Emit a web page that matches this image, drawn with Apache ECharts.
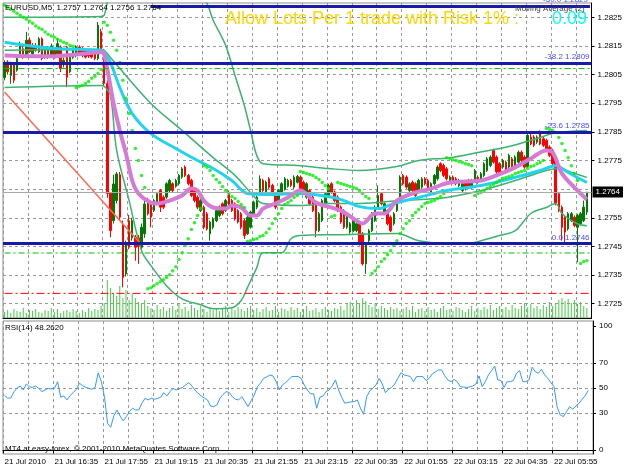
<!DOCTYPE html>
<html>
<head>
<meta charset="utf-8">
<title>EURUSD M5</title>
<script src="https://cdn.jsdelivr.net/npm/echarts@6/dist/echarts.min.js"></script>
<style>
html,body{margin:0;padding:0;background:#fff;}
#chart{width:625px;height:469px;}
</style>
</head>
<body>
<div id="chart"></div>
<script>
// each bar: [open, close, low, high]
const candles = [
[1.2804,1.2809,1.2803,1.2810],[1.28094,1.2806,1.2805,1.2810],[1.28047,1.28088,1.28018,1.28095],[1.28088,1.2803,1.2802,1.2809],
[1.28065,1.28106,1.2806,1.2811],[1.28117,1.28158,1.2811,1.28165],[1.2814,1.28111,1.28105,1.2815],[1.2812,1.2817,1.28115,1.28199],
[1.2817,1.2813,1.28125,1.2818],[1.28123,1.2815,1.28115,1.2816],[1.2815,1.28135,1.2813,1.2816],[1.2813,1.28175,1.28125,1.28181],
[1.28175,1.28106,1.2810,1.2818],[1.2811,1.28135,1.28105,1.28146],[1.28146,1.28111,1.28105,1.2815],[1.28117,1.2815,1.2811,1.28158],
[1.28135,1.2811,1.28105,1.2814],[1.28123,1.28158,1.2812,1.28175],[1.28146,1.28071,1.28059,1.28152],[1.28085,1.2810,1.28075,1.2811],
[1.28146,1.28041,1.28006,1.2815],[1.2806,1.28117,1.28055,1.28123],[1.2811,1.28135,1.28105,1.2814],[1.28117,1.28146,1.2811,1.28152],
[1.28146,1.2812,1.28115,1.28152],[1.2814,1.28117,1.2811,1.28146],[1.28135,1.28111,1.28106,1.2814],[1.2813,1.28115,1.28108,1.28138],
[1.28135,1.28111,1.28106,1.2814],[1.28135,1.28106,1.2810,1.2814],[1.28106,1.28222,1.2810,1.28234],[1.2820,1.28135,1.2813,1.2821],
[1.28135,1.28019,1.2801,1.2814],[1.28019,1.27635,1.2762,1.2803],
[1.27635,1.27505,1.27482,1.2764],[1.2754,1.27668,1.2753,1.2770],[1.2761,1.27703,1.2760,1.2771],[1.2770,1.27552,1.2754,1.2771],
[1.27528,1.27342,1.27307,1.2754],[1.27354,1.27459,1.27345,1.2747],[1.2754,1.27447,1.2744,1.2756],[1.2748,1.2754,1.2747,1.2755],
[1.27482,1.27447,1.2740,1.2749],[1.2748,1.2745,1.27389,1.2749],[1.27447,1.27517,1.2744,1.2753],[1.27494,1.27598,1.2748,1.2761],
[1.2761,1.27564,1.27558,1.2762],[1.2760,1.27552,1.27517,1.27605],[1.27575,1.2761,1.2757,1.27616],[1.27599,1.27634,1.27593,1.2764],
[1.27645,1.27587,1.2757,1.2765],[1.27622,1.27587,1.2758,1.27628],[1.27622,1.27669,1.27616,1.27674],[1.27645,1.2768,1.2764,1.27686],
[1.27669,1.27645,1.2764,1.27674],[1.2766,1.2768,1.27655,1.27686],[1.27669,1.27698,1.27663,1.27703],[1.27692,1.27721,1.27686,1.27727],
[1.27727,1.27698,1.27692,1.27733],[1.27698,1.27669,1.27663,1.27703],[1.2768,1.27628,1.27622,1.27686],[1.27645,1.2761,1.27604,1.2765],
[1.27622,1.27587,1.2758,1.27628],[1.27575,1.2761,1.2757,1.27616],[1.27587,1.27517,1.2751,1.27593],[1.27564,1.27511,1.27505,1.2757],
[1.27494,1.27535,1.2747,1.2754],[1.27517,1.27546,1.2751,1.27552],[1.2754,1.27575,1.27535,1.2758],[1.27558,1.27587,1.27552,1.27593],
[1.27599,1.27564,1.27558,1.27604],[1.27575,1.2761,1.2757,1.27616],[1.27634,1.27587,1.2758,1.27645],[1.2761,1.27575,1.2757,1.27616],
[1.27599,1.27546,1.2754,1.27604],[1.27575,1.27535,1.2753,1.2758],[1.27564,1.27517,1.2751,1.2757],[1.2754,1.27488,1.27476,1.27546],
[1.27494,1.27552,1.2749,1.27558],[1.27517,1.2757,1.27512,1.27575],[1.27564,1.27604,1.2756,1.2761],[1.27587,1.27622,1.2758,1.27628],
[1.27634,1.27686,1.2763,1.27698],[1.2768,1.27645,1.2764,1.27686],[1.2764,1.27674,1.27635,1.2768],[1.27686,1.27657,1.27651,1.27692],
[1.27663,1.27634,1.27628,1.27669],[1.27634,1.27587,1.2758,1.2764],[1.2761,1.27645,1.27604,1.2765],[1.27639,1.27669,1.27634,1.27674],
[1.2765,1.27686,1.27645,1.27692],[1.2766,1.2768,1.27655,1.27686],[1.2768,1.27663,1.27657,1.27686],[1.27657,1.27692,1.27651,1.27698],
[1.27674,1.27694,1.2767,1.2770],[1.27692,1.27651,1.27645,1.27698],[1.27674,1.2764,1.27634,1.2768],[1.27622,1.27669,1.27616,1.27674],
[1.27645,1.27599,1.27593,1.2765],[1.27622,1.27575,1.2757,1.27628],[1.27599,1.27505,1.27482,1.27604],[1.27505,1.27564,1.2750,1.2757],
[1.2754,1.2761,1.27535,1.27616],[1.27599,1.27634,1.27593,1.2764],[1.27628,1.27663,1.27622,1.27669],[1.27669,1.2764,1.27634,1.27674],
[1.2764,1.2761,1.27604,1.27645],[1.27622,1.27575,1.2757,1.27628],[1.27587,1.27535,1.27529,1.27593],[1.27575,1.27517,1.27511,1.2758],
[1.27517,1.27564,1.27511,1.2757],[1.2750,1.27529,1.27494,1.27535],[1.27505,1.2754,1.2750,1.27546],[1.27505,1.27529,1.2750,1.27535],
[1.27529,1.27459,1.27453,1.27535],[1.27494,1.27389,1.27383,1.2750],[1.27389,1.27459,1.27354,1.27465],[1.2747,1.27505,1.27465,1.27511],
[1.27505,1.27564,1.2750,1.2757],[1.2754,1.27587,1.27535,1.27593],[1.27587,1.27628,1.27581,1.27663],[1.27634,1.27599,1.27593,1.2764],
[1.27564,1.27599,1.2756,1.27604],[1.27575,1.27529,1.27523,1.2758],[1.27552,1.27505,1.2750,1.27558],[1.27529,1.27564,1.27523,1.2757],
[1.27575,1.2761,1.2757,1.27616],[1.2761,1.27692,1.27604,1.27698],[1.27698,1.27669,1.27663,1.27703],[1.27692,1.27657,1.27651,1.27698],
[1.27645,1.27669,1.2764,1.27674],[1.27674,1.27645,1.2764,1.2768],[1.27669,1.27628,1.27622,1.27674],[1.27645,1.2768,1.2764,1.27686],
[1.27657,1.27686,1.27651,1.27692],[1.27686,1.27669,1.27663,1.27692],[1.2768,1.27651,1.27645,1.27686],[1.2764,1.27669,1.27634,1.27674],
[1.27669,1.27698,1.27663,1.27703],[1.27686,1.27727,1.2768,1.27733],[1.27739,1.27715,1.2771,1.27744],[1.27733,1.27698,1.27692,1.27739],
[1.27721,1.27686,1.2768,1.27727],[1.2768,1.27692,1.27674,1.27698],[1.27692,1.27678,1.27674,1.27698],[1.27686,1.27669,1.27663,1.27692],
[1.27663,1.2768,1.27657,1.27686],[1.27645,1.27669,1.2764,1.27674],[1.27674,1.27651,1.27645,1.2768],[1.2768,1.27657,1.27651,1.27686],
[1.27657,1.2768,1.27651,1.27686],[1.2768,1.27715,1.27674,1.2772],[1.27692,1.27674,1.27669,1.27698],[1.2768,1.27704,1.27674,1.2771],
[1.27698,1.27739,1.27692,1.27744],[1.27715,1.27756,1.2771,1.27762],[1.27733,1.27762,1.27727,1.27768],[1.27785,1.27744,1.27739,1.27791],
[1.27762,1.2771,1.27704,1.27768],[1.27739,1.27704,1.27698,1.27744],[1.27727,1.2775,1.27721,1.27756],[1.27744,1.2771,1.27704,1.2775],
[1.27727,1.27768,1.27721,1.27774],[1.27756,1.27727,1.27721,1.27762],[1.27733,1.27762,1.27727,1.27768],[1.27744,1.27779,1.27739,1.27785],
[1.27779,1.2775,1.27744,1.27785],[1.27762,1.27727,1.27721,1.27768],[1.2773,1.27838,1.27725,1.27843],[1.27832,1.27808,1.27803,1.27843],
[1.27832,1.27803,1.27797,1.27838],[1.27814,1.27832,1.27808,1.27838],[1.27843,1.27808,1.27803,1.27855],[1.27826,1.27803,1.27797,1.27832],
[1.2782,1.27785,1.2778,1.27826],[1.27797,1.27768,1.27762,1.27803],[1.27785,1.27739,1.27733,1.27791],[1.27756,1.27599,1.27593,1.27762],
[1.27634,1.27575,1.27569,1.2764],[1.27587,1.27517,1.2747,1.27593],[1.27552,1.2750,1.2746,1.27558],[1.27511,1.27564,1.27505,1.2757],
[1.2754,1.27564,1.27535,1.2757],[1.27552,1.27523,1.27517,1.27558],[1.27517,1.27558,1.27395,1.27564],[1.27529,1.27564,1.27523,1.2757],
[1.2754,1.27587,1.27535,1.2761],[1.2757,1.2764,1.2756,1.2764]
];

const volumes = [
6,8,5,9,7,6,10,5,8,7,9,6,5,8,7,10,6,9,5,7,8,6,9,7,5,8,6,10,7,9,8,12,15,
38,30,25,22,32,20,28,18,24,20,16,14,18,
12,10,8,13,9,11,7,10,12,8,14,9,11,7,13,10,8,12,9,6,11,8,10,7,9,12,6,10,8,11,9,7,10,12,
8,10,6,9,11,7,8,12,6,10,9,7,11,8,10,6,9,12,7,8,10,6,9,11,8,7,10,9,12,8,14,
16,12,18,14,20,17,13,11,15,9,12,10,8,11,9,
10,7,9,11,8,12,6,9,10,7,11,8,9,6,10,12,8,9,7,11,10,8,6,9,12,7,10,8,11,9,13,8,10,12,9,
11,8,13,10,9,12,15,11,14,10,12,9,13,11,16,12,14,18,20,17,19,15,18,14,16,12,10
];

// Parabolic SAR dot per bar
const sar = [
1.28292,1.28285,1.28278,1.28271,1.28264,1.28257,1.2825,1.28243,1.28236,1.28229,
1.2822,1.28213,1.28208,1.28199,1.28191,1.28185,1.2818,1.28173,1.28168,1.28163,
1.28159,1.28152,1.28149,1.28005,1.28009,1.28012,1.28019,1.28026,1.28037,1.28044,
1.28054,1.28068,1.28233,1.28222,1.28198,1.2817,1.28135,1.28092,1.2803,1.27967,
1.27914,1.27855,1.27792,1.2775,1.27698,1.27656,1.27302,1.27306,1.27313,1.2732,
1.27327,1.27334,1.27341,1.27351,1.27365,1.27379,1.27404,1.27428,1.27453,1.27477,
1.27509,1.27533,1.27558,1.27582,1.27732,1.27726,1.27715,1.27698,1.27684,1.27673,
1.27659,1.27645,1.27635,1.27624,1.27617,1.27607,1.27596,1.27586,1.27467,1.2747,
1.27474,1.27477,1.27485,1.27488,1.27498,1.27512,1.2753,1.27547,1.27564,1.27582,
1.27596,1.27603,1.2761,1.27621,1.27628,1.27712,1.27708,1.27705,1.27701,1.27698,
1.27691,1.27684,1.27673,1.27663,1.27652,1.27554,1.27558,1.27673,1.2767,1.27666,
1.27663,1.27659,1.27656,1.27652,1.27645,1.27635,1.27624,1.27617,1.27355,1.27365,
1.27379,1.27397,1.27407,1.27421,1.27435,1.27453,1.2747,1.27495,1.27512,1.2753,
1.2754,1.27558,1.27568,1.27579,1.27589,1.276,1.27603,1.27607,1.2761,1.27617,
1.27624,1.27635,1.2776,1.27757,1.27753,1.2775,1.27746,1.27743,1.27739,1.27736,
1.27732,1.27628,1.27635,1.27638,1.27645,1.27652,1.27659,1.27666,1.27673,1.2768,
1.27687,1.27691,1.27694,1.27698,1.27705,1.27708,1.27712,1.27715,1.27722,1.27729,
1.27732,1.27739,1.27743,1.2775,1.27862,1.27858,1.27855,1.27848,1.2783,1.27809,
1.27785,1.2776,1.27732,1.27705,1.2768,1.2739,1.27397,1.274
];

const rsi = [
44,42,42,47,50,51.7,48.5,53.3,51,50.6,
51.7,49.6,47.2,48.5,49.8,49.3,49.8,55.2,42.6,43.7,
40.5,44,46.4,49.1,53.9,52,50.6,49.8,49.1,50.6,
62.4,55.2,43.1,21.7,18.5,27.6,32.4,27.6,23.6,27,
31.1,33.8,32.4,32.4,37.8,41.8,40.5,41.8,41,41.8,
42.6,46.4,43.7,47.2,49.8,48.5,49.5,50.6,52.5,54.4,
51.7,48.5,45.8,43.7,42,40.5,35.6,35.1,36.4,41.8,
45,47.2,46.4,43.1,41,40.5,43.1,39.1,35.1,40,
44.5,51.2,54,57.9,59,60.6,59.8,55.2,48.5,52.5,
54.5,56.6,59.3,59.3,59.3,57.9,52.5,48.5,45.3,45.5,
33.8,42.6,43.7,47.2,48.5,52,56.6,48.5,42.6,37.8,
38.5,38.9,39.1,40.5,34,28.9,43.1,47.7,50,52.5,
57.9,53.3,46.4,49.1,50.6,53.3,58,62.4,60.6,60,
59.3,55.2,59.3,59.3,59.3,56.1,57.9,61.4,63,64.6,
64.6,60,56.6,55.2,57.1,55.2,51.2,50.8,50.6,51,
51.7,53.3,59.8,51.2,55.2,60.6,64,67.8,56.6,56.1,
50.6,55.2,55.2,56.1,62,64.1,55.2,55.2,56.6,66.8,
63.3,61.9,65.2,60.6,57.9,54.4,51.2,35,28.4,27.1,
31.1,35.1,33,35.6,37.8,41,44,48.26
];

// indicator lines: [bar index, price]
const maCyan = [[0,1.28163],[15,1.28142],[31,1.28135],[32,1.28128],[34,1.28093],[37,1.28005],[41,1.27914],[47,1.27844],[55,1.27792],[62,1.2775],[67,1.27722],[73,1.2768],[78,1.27635],[85,1.27631],[95,1.27635],[104,1.27624],[109,1.2761],[114,1.27589],[120,1.27582],[125,1.276],[133,1.27621],[142,1.27645],[153,1.27663],[164,1.27691],[172,1.27715],[177,1.27732],[181,1.27708],[187,1.27673]];
const maOrchid = [[0,1.28117],[15,1.28114],[24,1.28121],[31,1.28128],[32,1.28121],[35,1.2795],[37,1.27855],[39,1.27774],[41,1.2768],[43,1.27635],[47,1.27603],[49,1.276],[53,1.2761],[57,1.27628],[60,1.27652],[62,1.27645],[64,1.2761],[67,1.27586],[71,1.27582],[73,1.27593],[76,1.27586],[79,1.27558],[81,1.27558],[83,1.27582],[87,1.276],[91,1.27621],[95,1.27645],[100,1.27603],[108,1.27575],[113,1.2754],[115,1.2753],[119,1.27565],[122,1.27565],[126,1.2761],[131,1.27635],[137,1.27652],[143,1.27673],[153,1.2768],[158,1.27698],[164,1.27726],[169,1.27757],[174,1.27785],[176,1.27778],[179,1.27705],[183,1.27656],[187,1.27614]];
const bbUpper = [[0,1.2825],[31,1.28253],[32,1.28257],[34,1.28344],[40,1.28467],[47,1.28516],[57,1.28442],[65,1.28299],[67,1.2824],[71,1.28152],[74,1.28047],[77,1.27942],[79,1.27855],[81,1.27767],[83,1.27739],[95,1.27732],[104,1.27722],[114,1.27715],[126,1.27729],[133,1.2775],[143,1.2776],[152,1.27778],[162,1.27799],[171,1.27827],[176,1.27844],[181,1.27851],[187,1.27855]];
const bbMiddle = [[0,1.28135],[31,1.28138],[32,1.28135],[34,1.2811],[47,1.27949],[57,1.27855],[67,1.2776],[74,1.27698],[79,1.27638],[83,1.276],[95,1.27593],[104,1.276],[114,1.276],[127,1.2761],[142,1.27621],[153,1.27645],[164,1.2768],[174,1.27715],[178,1.27722],[183,1.27705],[187,1.27691]];
const bbLower = [[0,1.28005],[31,1.28012],[32,1.28009],[34,1.27977],[36,1.27785],[40,1.2761],[44,1.27435],[47,1.27383],[52,1.27313],[57,1.27267],[63,1.27246],[67,1.27232],[73,1.27236],[76,1.27261],[78,1.27306],[81,1.27376],[83,1.27428],[89,1.27428],[92,1.27477],[95,1.27488],[107,1.27491],[126,1.27495],[133,1.2747],[142,1.2746],[149,1.2746],[153,1.2747],[159,1.27488],[164,1.27505],[169,1.27565],[174,1.27586],[177,1.276],[179,1.27565],[184,1.27529],[187,1.27522]];
const trendLine = [[0,1.27989],[44,1.27456]];

const fibLevels = [1.2829, 1.2809, 1.2785, 1.2746];
const fibNames = ['-50.0 1.2829', '-38.2 1.2809', '-23.6 1.2785', '0.0 1.2746'];
const orderLevels = [1.28071, 1.27427];
const orderNames = ['#95842 buy', '#99296 buy'];
const stopLevel = 1.27286;
const bidPrice = 1.2764;

const priceTicks = [1.2725,1.2735,1.2745,1.2755,1.2775,1.2785,1.2795,1.2805,1.2815,1.2825];
const priceGrid = [1.2725,1.2735,1.2745,1.2755,1.2765,1.2775,1.2785,1.2795,1.2805,1.2815,1.2825];
const rsiTicks = [0,30,50,70,100];
const rsiLevels = [30,50,70];
const timeLabels = ['21 Jul 2010','21 Jul 16:35','21 Jul 17:55','21 Jul 19:15','21 Jul 20:35','21 Jul 21:55',
  '21 Jul 23:15','22 Jul 00:35','22 Jul 01:55','22 Jul 03:15','22 Jul 04:35','22 Jul 05:55'];

const FONT = '"Liberation Sans", Arial, sans-serif';
const slots = [];
for (let i = 0; i <= candles.length; i++) slots.push(String(i));
const closes = candles.map(c => c[1]);
const lastSlot = slots.length - 1;

const gridDash = {color: '#9a9a9a', type: [3, 3], width: 1};
const bbStyle = {color: '#3cb371', width: 1.5};
const fibStyle = {color: '#1a1aa8', width: 3, type: 'solid'};
const fibLabel = (txt) => ({show: true, position: 'insideEndTop', formatter: txt, color: '#4a4aff',
  fontSize: 8, fontFamily: FONT, distance: 2});

// horizontal object line drawn as its own series
const levelSeries = (level, style, z) => ({
  type: 'line', xAxisIndex: 0, yAxisIndex: 0, data: [[0, level], [lastSlot, level]],
  showSymbol: false, lineStyle: style, z: z, silent: true
});

let instance = echarts.init(document.getElementById('chart'));
instance.setOption({
  animation: false,
  backgroundColor: '#fff',
  grid: [
    {left: 3, top: 3, width: 590, height: 315, show: true, borderColor: '#8c8c8c', borderWidth: 1},
    {left: 3, top: 321, width: 590, height: 133, show: true, borderColor: '#8c8c8c', borderWidth: 1}
  ],
  xAxis: [
    {
      type: 'category', gridIndex: 0, data: slots, boundaryGap: true,
      axisLine: {show: true, lineStyle: {color: '#000'}}, axisTick: {show: false}, axisLabel: {show: false},
      splitLine: {show: true, interval: (i) => i % 8 === 0, lineStyle: gridDash}
    },
    {
      type: 'category', gridIndex: 1, data: slots, boundaryGap: true,
      axisLine: {show: true, lineStyle: {color: '#000'}},
      axisTick: {show: true, interval: (i) => i % 16 === 0, length: 3, lineStyle: {color: '#000'}},
      axisLabel: {
        show: true, interval: (i) => i % 16 === 0, align: 'left', margin: 4,
        fontFamily: FONT, fontSize: 8, color: '#000',
        formatter: (v, i) => (i % 16 === 0 && timeLabels[i / 16]) ? timeLabels[i / 16] : ''
      },
      splitLine: {show: true, interval: (i) => i % 8 === 0, lineStyle: gridDash}
    }
  ],
  yAxis: [
    {
      type: 'value', gridIndex: 0, position: 'right', min: 1.2720, max: 1.2830,
      axisLine: {show: true, lineStyle: {color: '#000'}},
      axisTick: {show: true, customValues: priceTicks, length: 3, lineStyle: {color: '#000'}},
      axisLabel: {show: true, customValues: priceTicks, formatter: (v) => v.toFixed(4), margin: 6,
        fontFamily: FONT, fontSize: 8, color: '#000'},
      splitLine: {show: false}
    },
    {type: 'value', gridIndex: 0, min: 0, max: 315, show: false},
    {
      type: 'value', gridIndex: 1, position: 'right', min: -3, max: 104,
      axisLine: {show: true, lineStyle: {color: '#000'}},
      axisTick: {show: true, customValues: rsiTicks, length: 3, lineStyle: {color: '#000'}},
      axisLabel: {show: true, customValues: rsiTicks, margin: 6, fontFamily: FONT, fontSize: 8, color: '#000'},
      splitLine: {show: false}
    }
  ],
  series: [
    {
      // invisible carrier for the horizontal price grid
      type: 'line', xAxisIndex: 0, yAxisIndex: 0, data: closes, showSymbol: false, z: 0, silent: true,
      lineStyle: {opacity: 0},
      markLine: {silent: true, z: 0, precision: 5, symbol: ['none', 'none'], label: {show: false}, lineStyle: gridDash,
        data: priceGrid.map(p => ({yAxis: p}))}
    },
    {
      type: 'bar', xAxisIndex: 0, yAxisIndex: 1, data: volumes, barWidth: 1, z: 1,
      itemStyle: {color: '#44cc44'}, silent: true
    },
    {
      type: 'candlestick', xAxisIndex: 0, yAxisIndex: 0, data: candles, barWidth: 2, z: 2,
      itemStyle: {color: '#007a00', color0: '#ff0000', borderColor: '#007a00', borderColor0: '#ff0000', borderWidth: 1},
      silent: true
    },
    {type: 'line', xAxisIndex: 0, yAxisIndex: 0, data: bbUpper, showSymbol: false, smooth: 0.35, lineStyle: bbStyle, z: 3, silent: true},
    {type: 'line', xAxisIndex: 0, yAxisIndex: 0, data: bbMiddle, showSymbol: false, smooth: 0.35, lineStyle: bbStyle, z: 3, silent: true},
    {type: 'line', xAxisIndex: 0, yAxisIndex: 0, data: bbLower, showSymbol: false, smooth: 0.35, lineStyle: bbStyle, z: 3, silent: true},
    {type: 'line', xAxisIndex: 0, yAxisIndex: 0, data: maCyan, showSymbol: false, smooth: 0.35,
      lineStyle: {color: '#22d3f0', width: 3}, z: 4, silent: true},
    {type: 'line', xAxisIndex: 0, yAxisIndex: 0, data: maOrchid, showSymbol: false, smooth: 0.35,
      lineStyle: {color: '#d57ad5', width: 4}, z: 4, silent: true},
    {type: 'line', xAxisIndex: 0, yAxisIndex: 0, data: trendLine, showSymbol: false,
      lineStyle: {color: '#ff6a50', width: 1.5}, z: 4, silent: true},
    {
      type: 'scatter', xAxisIndex: 0, yAxisIndex: 0, data: sar, symbol: 'circle', symbolSize: 3.5, z: 5,
      itemStyle: {color: '#00ee00'}, silent: true
    },
    levelSeries(orderLevels[0], {color: '#00c000', width: 1, type: [6, 3, 2, 3]}, 5),
    levelSeries(orderLevels[1], {color: '#00c000', width: 1, type: [6, 3, 2, 3]}, 5),
    levelSeries(stopLevel, {color: '#ff0000', width: 1, type: [8, 3, 2, 3]}, 5),
    {
      // invisible carrier for fibo levels, order labels and the bid line
      type: 'line', xAxisIndex: 0, yAxisIndex: 0, data: closes, showSymbol: false, z: 6, silent: true,
      lineStyle: {opacity: 0},
      markLine: {
        silent: true, z: 6, precision: 5, symbol: ['none', 'none'],
        data: [
          [{coord: ['47', fibLevels[0]], lineStyle: fibStyle, label: fibLabel(fibNames[0])},
           {coord: ['188', fibLevels[0]]}],
          {yAxis: fibLevels[1], lineStyle: fibStyle, label: fibLabel(fibNames[1])},
          {yAxis: fibLevels[2], lineStyle: fibStyle, label: fibLabel(fibNames[2])},
          {yAxis: fibLevels[3], lineStyle: fibStyle, label: fibLabel(fibNames[3])},
          ...orderLevels.map((p, k) => ({yAxis: p, lineStyle: {opacity: 0},
            label: {show: true, position: 'insideStartTop', formatter: orderNames[k], color: '#404040',
              fontSize: 8, fontFamily: FONT, distance: 1}})),
          {yAxis: bidPrice, lineStyle: {color: '#a8a8a8', width: 1, type: 'solid'},
            label: {show: true, position: 'end', formatter: '1.2764', color: '#fff', backgroundColor: '#000',
              padding: [2, 3, 1, 3], fontSize: 8, fontFamily: FONT, distance: 1}}
        ]
      }
    },
    {
      type: 'line', xAxisIndex: 1, yAxisIndex: 2, data: rsi, showSymbol: false,
      lineStyle: {color: '#3399ff', width: 1}, z: 3, silent: true,
      markLine: {silent: true, z: 1, symbol: ['none', 'none'], label: {show: false}, lineStyle: gridDash,
        data: rsiLevels.map(v => ({yAxis: v}))}
    }
  ],
  graphic: [
    {type: 'text', left: 5, top: 4, z: 10, style: {text: 'EURUSD,M5  1.2757 1.2764 1.2756 1.2764', fill: '#000', font: '8px ' + FONT}},
    {type: 'text', left: 225, top: 10, z: 10, style: {text: 'Allow Lots Per 1 trade with Risk 1% :', fill: '#ffd700', font: '18px ' + FONT}},
    {type: 'text', left: 552, top: 10, z: 10, style: {text: '0.09', fill: '#00ffff', font: '18px ' + FONT}},
    {type: 'text', left: 515, top: 5, z: 10, style: {text: 'Moving Average (2)', fill: '#404040', font: '8px ' + FONT}},
    {type: 'text', left: 5, top: 324, z: 10, style: {text: 'RSI(14) 48.2620', fill: '#000', font: '8px ' + FONT}},
    {type: 'text', left: 5, top: 445, z: 10, style: {text: 'MT4 at easy-forex, \u00a9 2001-2010 MetaQuotes Software Corp.', fill: '#000', font: '8px ' + FONT}}
  ]
});
window.onresize = () => {
  instance.resize();
};
</script>
</body>
</html>
